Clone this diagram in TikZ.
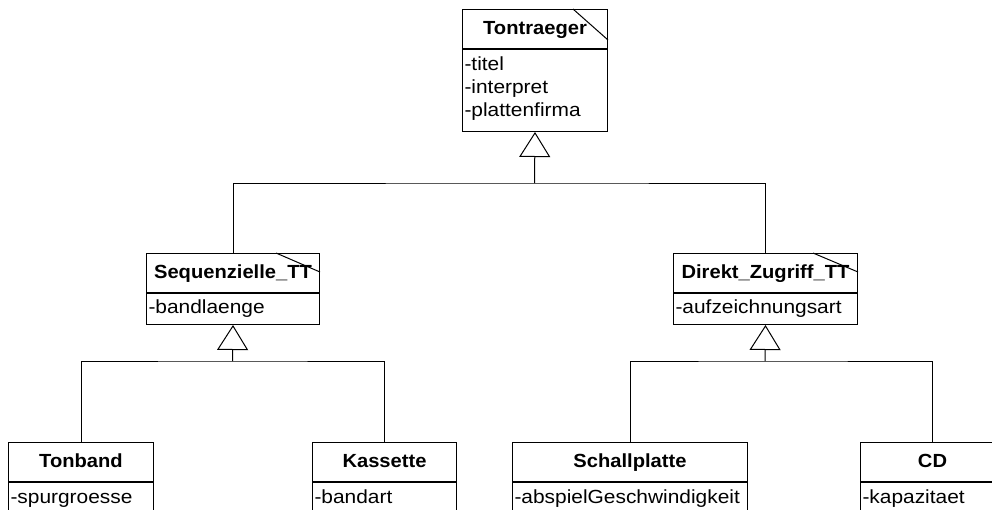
\documentclass[tikz,border=0pt]{standalone}
\usepackage{fontspec}
\setmainfont{Liberation Sans}[FakeStretch=1.1]
\newfontfamily\titlefont{Liberation Sans}[FakeStretch=1.06]
\usetikzlibrary{arrows.meta}
\begin{document}
\begin{tikzpicture}[x=1pt,y=-1pt,line width=1pt,
  titlebox/.style={draw, rectangle, inner sep=0pt, anchor=north west, minimum height=39pt,
    text height=14pt, text depth=4pt, font=\titlefont\fontsize{19}{23}\selectfont\bfseries},
  attrbox/.style={draw, rectangle, inner sep=0pt, anchor=north west},
  attr/.style={anchor=base west, inner sep=0pt, font=\fontsize{19}{23}\selectfont},
  gen/.style={-{Triangle[open,length=25pt,width=31pt]}}]

\useasboundingbox (0,0) rectangle (992,509);

% Tontraeger
\node[titlebox, minimum width=145pt] (tT) at (462,9) {Tontraeger};
\node[attrbox, minimum width=145pt, minimum height=82pt] (tA) at (tT.south west) {};
\node[attr] (tA1) at ([xshift=2pt,yshift=-21pt]tA.north west) {-titel};
\node[attr] (tA2) at ([yshift=-23pt]tA1.base west) {-interpret};
\node[attr] (tA3) at ([yshift=-23pt]tA2.base west) {-plattenfirma};
\draw ([xshift=-35pt]tT.north east) -- ([yshift=-31pt]tT.north east);

% Sequenzielle_TT
\node[titlebox, minimum width=173pt] (sT) at (146,253) {Sequenzielle\_TT};
\node[attrbox, minimum width=173pt, minimum height=31pt] (sA) at (sT.south west) {};
\node[attr] (sA1) at ([xshift=2pt,yshift=-20pt]sA.north west) {-bandlaenge};
\draw ([xshift=-44pt]sT.north east) -- ([yshift=-19pt]sT.north east);

% Direkt_Zugriff_TT
\node[titlebox, minimum width=184pt] (dT) at (673,253) {Direkt\_Zugriff\_TT};
\node[attrbox, minimum width=184pt, minimum height=31pt] (dA) at (dT.south west) {};
\node[attr] (dA1) at ([xshift=2pt,yshift=-20pt]dA.north west) {-aufzeichnungsart};
\draw ([xshift=-45pt]dT.north east) -- ([yshift=-19pt]dT.north east);

% Tonband
\node[titlebox, minimum width=145pt] (bT) at (8,442) {Tonband};
\node[attrbox, minimum width=145pt, minimum height=40pt] (bA) at (bT.south west) {};
\node[attr] (bA1) at ([xshift=2pt,yshift=-21pt]bA.north west) {-spurgroesse};

% Kassette
\node[titlebox, minimum width=144pt] (kT) at (312,442) {Kassette};
\node[attrbox, minimum width=144pt, minimum height=40pt] (kA) at (kT.south west) {};
\node[attr] (kA1) at ([xshift=2pt,yshift=-21pt]kA.north west) {-bandart};

% Schallplatte
\node[titlebox, minimum width=235pt] (pT) at (512,442) {Schallplatte};
\node[attrbox, minimum width=235pt, minimum height=40pt] (pA) at (pT.south west) {};
\node[attr] (pA1) at ([xshift=2pt,yshift=-21pt]pA.north west) {-abspielGeschwindigkeit};

% CD
\node[titlebox, minimum width=144pt] (cT) at (860,442) {CD};
\node[attrbox, minimum width=144pt, minimum height=40pt] (cA) at (cT.south west) {};
\node[attr] (cA1) at ([xshift=2pt,yshift=-21pt]cA.north west) {-kapazitaet};

% connectors
\coordinate (j1) at (534.5,183);
\coordinate (j2) at (232.5,361);
\coordinate (j3) at (765,361);
\draw (sT.north) |- (j1) -| (dT.north);
\draw[gen] (j1) -- (tA.south);
\draw (bT.north) |- (j2) -| (kT.north);
\draw[gen] (j2) -- (sA.south);
\draw (pT.north) |- (j3) -| (cT.north);
\draw[gen] (j3) -- (dA.south);
\end{tikzpicture}
\end{document}
